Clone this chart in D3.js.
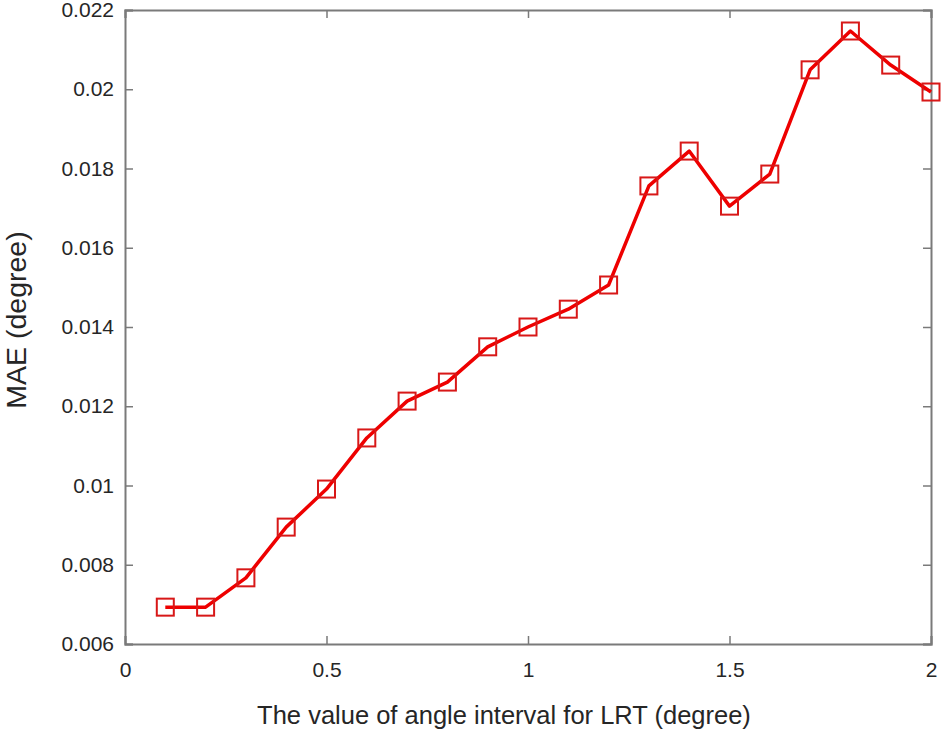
<!DOCTYPE html>
<html>
<head>
<meta charset="utf-8">
<script src="https://cdn.jsdelivr.net/npm/d3@7"></script>
<style>
  body { margin: 0; background: #fff; }
  text { font-family: "Liberation Sans", Arial, sans-serif; fill: #262626; }
</style>
</head>
<body>
<svg id="chart" width="943" height="732"></svg>
<script>
// Data
const angleInterval = [0.1, 0.2, 0.3, 0.4, 0.5, 0.6, 0.7, 0.8, 0.9, 1.0,
                       1.1, 1.2, 1.3, 1.4, 1.5, 1.6, 1.7, 1.8, 1.9, 2.0];
const maeValues = [0.00693, 0.00693, 0.00767, 0.00895, 0.00991, 0.0112, 0.01213, 0.01261, 0.0135, 0.0140,
                   0.01445, 0.01506, 0.01756, 0.01844, 0.01705, 0.01786, 0.02049, 0.02147, 0.02061, 0.01993];
const xTicks = [0, 0.5, 1, 1.5, 2];
const yTicks = [0.006, 0.008, 0.01, 0.012, 0.014, 0.016, 0.018, 0.02, 0.022];

const margin = { left: 125, top: 10, right: 12, bottom: 88 };
const width = 943, height = 732;
const svg = d3.select('#chart');

const x = d3.scaleLinear().domain([0, 2]).range([margin.left, width - margin.right]);
const y = d3.scaleLinear().domain([0.006, 0.022]).range([height - margin.bottom, margin.top]);

const axisColor = '#7a7a7a';
const tickLen = 8;

// Axes (ticks pointing inward, box on)
const axisBottomG = svg.append('g').attr('transform', `translate(0,${y.range()[0]})`)
    .call(d3.axisBottom(x).tickValues(xTicks).tickSize(-tickLen).tickPadding(18).tickFormat(d3.format('')));
const axisTopG = svg.append('g').attr('transform', `translate(0,${y.range()[1]})`)
    .call(d3.axisTop(x).tickValues(xTicks).tickSize(-tickLen).tickFormat(''));
const axisLeftG = svg.append('g').attr('transform', `translate(${x.range()[0]},0)`)
    .call(d3.axisLeft(y).tickValues(yTicks).tickSize(-tickLen).tickPadding(11).tickFormat(d => d3.format('')(+d.toFixed(3))));
const axisRightG = svg.append('g').attr('transform', `translate(${x.range()[1]},0)`)
    .call(d3.axisRight(y).tickValues(yTicks).tickSize(-tickLen).tickFormat(''));

[axisBottomG, axisTopG, axisLeftG, axisRightG].forEach(g => {
    g.select('.domain').attr('stroke', axisColor).attr('stroke-width', 2);
    g.selectAll('.tick line').attr('stroke', axisColor).attr('stroke-width', 1.5);
    g.selectAll('.tick text').attr('font-size', 21).attr('fill', '#262626')
        .style('font-family', '"Liberation Sans", Arial, sans-serif');
});

// Line
const line = d3.line().x((d, i) => x(angleInterval[i])).y(d => y(d));
svg.append('path')
    .datum(maeValues)
    .attr('d', line)
    .attr('fill', 'none')
    .attr('stroke', '#ee0000')
    .attr('stroke-width', 3.5)
    .attr('stroke-linejoin', 'round');

// Square markers
const ms = 17;
svg.selectAll('.marker')
    .data(maeValues)
    .enter()
    .append('rect')
    .attr('class', 'marker')
    .attr('x', (d, i) => x(angleInterval[i]) - ms / 2)
    .attr('y', d => y(d) - ms / 2)
    .attr('width', ms)
    .attr('height', ms)
    .attr('fill', 'none')
    .attr('stroke', '#d81818')
    .attr('stroke-width', 2);

// Axis labels
svg.append('text')
    .attr('x', 504)
    .attr('y', 724)
    .attr('text-anchor', 'middle')
    .attr('font-size', 25.5)
    .text('The value of angle interval for LRT (degree)');

svg.append('text')
    .attr('transform', `translate(26,320) rotate(-90)`)
    .attr('text-anchor', 'middle')
    .attr('font-size', 28.5)
    .text('MAE (degree)');
</script>
</body>
</html>
